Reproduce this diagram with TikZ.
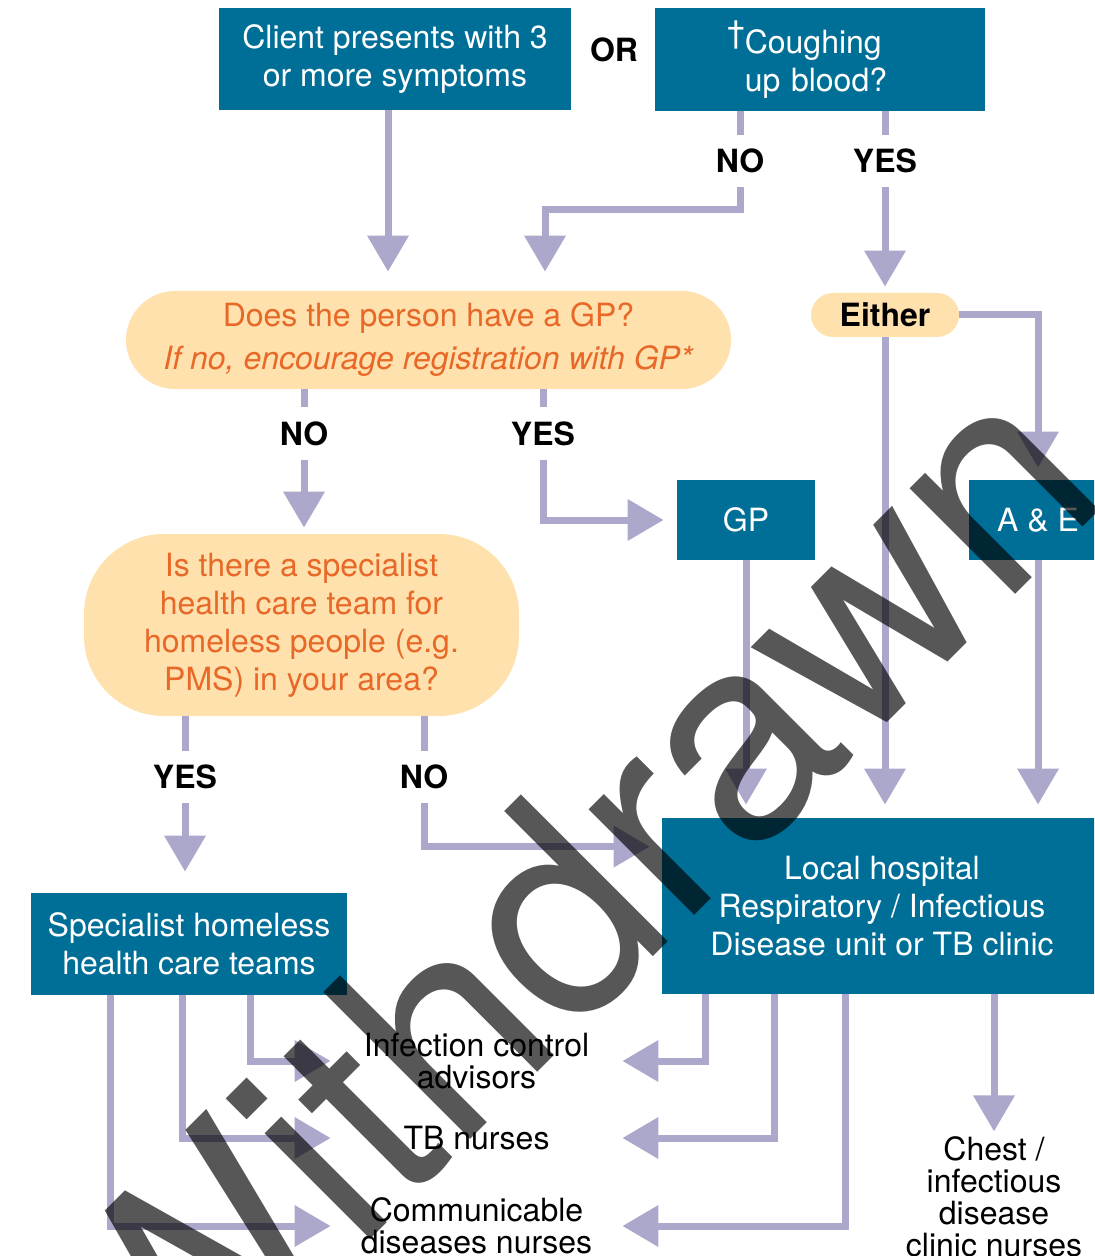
\documentclass[tikz,border=0pt]{standalone}
\usepackage{fontspec}
\setmainfont{TeX Gyre Heros}
\usetikzlibrary{arrows.meta}

\definecolor{boxteal}{RGB}{0,111,151}
\definecolor{pillpeach}{RGB}{255,225,174}
\definecolor{asktext}{RGB}{232,104,40}
\definecolor{flowlilac}{RGB}{172,168,203}

\newcommand\bodyfont{\fontsize{16}{19}\selectfont}
\newcommand\stafffont{\fontsize{16}{16}\selectfont}

\tikzset{
  tealbox/.style={fill=boxteal, text=white, align=center, inner sep=0pt},
  pill/.style={fill=pillpeach, text=asktext, align=center, inner sep=0pt},
  answer/.style={font=\bodyfont\bfseries, minimum height=26pt, inner sep=0pt},
  flow/.style={draw=flowlilac, line width=3.5pt},
  arr/.style={flow, -{Triangle[width=20pt,length=18pt]}},
  staff/.style={font=\stafffont, align=center, inner sep=0pt},
}

\begin{document}
\begin{tikzpicture}[x=0.5pt,y=-0.5pt,every node/.style={font=\bodyfont}]
    \path[use as bounding box] (0,0) rectangle (1094,1256);
    \clip (0,0) rectangle (1094,1256);

    % top row
    \node[tealbox, minimum width=176pt, minimum height=51pt] (client) at (395,59) {Client presents with 3\\or more symptoms};
    \node[font=\bodyfont\bfseries] (or) at (614,50) {OR};
    \node[tealbox, align=left, text width=165pt, minimum height=51.5pt] (cough) at (820,59.5)
        {\hspace*{36pt}\raisebox{5pt}{\textdagger}Coughing\\\hspace*{36pt}\phantom{\textdagger}up blood?};
    \node[answer] (no1) at (740,161) {NO};
    \node[answer] (yes1) at (885,161) {YES};
    \coordinate (nobend) at (545,210);

    % questions
    \node[pill, rounded corners=24.5pt, minimum width=302.5pt, minimum height=49pt] (gpq) at (428.5,340)
        {Does the person have a GP?\\[2.5pt]\textit{If no, encourage registration with GP*}};
    \node[pill, text=black, font=\bodyfont\bfseries, rounded corners=11pt, minimum width=74pt, minimum height=22pt] (either) at (885,315) {Either};
    \node[answer] (no2) at (304,433.5) {NO};
    \node[answer] (yes2) at (543,433.5) {YES};
    \node[tealbox, minimum width=69pt, minimum height=40pt] (gp) at (746,520) {GP};
    \node[tealbox, minimum width=69pt, minimum height=40pt] (ae) at (1038,520) {A \& E};
    \node[pill, rounded corners=40pt, minimum width=217.5pt, minimum height=91pt] (spec) at (301.5,625)
        {Is there a specialist\\health care team for\\homeless people (e.g.\\PMS) in your area?};
    \node[answer] (yes3) at (185,777) {YES};
    \node[answer] (no3) at (424,777) {NO};

    % services
    \node[tealbox, minimum width=158pt, minimum height=51pt] (teams) at (189,944) {Specialist homeless\\health care teams};
    \node[tealbox, minimum width=220pt, minimum height=88pt] (hosp) at (882,906) {Local hospital\\Respiratory / Infectious\\Disease unit or TB clinic};

    % staff
    \node[staff, minimum width=145.5pt] (ica) at (476.5,1061) {Infection control\\advisors};
    \node[staff, minimum width=145.5pt] (tbn) at (476.5,1138) {TB nurses};
    \node[staff, minimum width=145.5pt] (cdn) at (476.5,1226) {Communicable\\diseases nurses};
    \node[staff] (chest) at (994,1197) {Chest /\\infectious\\disease\\clinic nurses};

    \coordinate (c1) at ([xshift=-3.5pt]client.south);
    \coordinate (h4) at ([xshift=56pt]hosp.south);
    \coordinate (hin) at ([yshift=-14.5pt]hosp.north west);

    % connectors
    \draw[arr, shorten >=9.5pt] (c1) -- (c1 |- gpq.north);
    \draw[flow] (cough.south -| no1) -- (no1.north);
    \draw[arr, shorten >=9.5pt] (no1.south) |- (nobend) -- (nobend |- gpq.north);
    \draw[flow] (cough.south -| yes1) -- (yes1.north);
    \draw[arr, shorten >=3pt] (yes1.south) -- (either.north);
    \draw[arr, shorten >=6pt] (either.east) -| (ae.north);
    \draw[arr, shorten >=6.5pt] (either.south) -- (either.south |- hosp.north);

    \draw[flow] (gpq.south -| no2) -- (no2.north);
    \draw[arr, shorten >=3pt] (no2.south) -- (no2.south |- spec.north);
    \draw[flow] (gpq.south -| yes2) -- (yes2.north);
    \draw[arr, shorten >=6.5pt] (yes2.south) |- (gp.west);
    \draw[arr, shorten >=6.5pt] (gp.south) -- (gp.south |- hosp.north);
    \draw[arr, shorten >=6.5pt] (ae.south) -- (ae.south |- hosp.north);

    \draw[flow] (spec.south -| yes3) -- (yes3.north);
    \draw[arr, shorten >=10.5pt] (yes3.south) -- (yes3.south |- teams.north);
    \draw[flow] (spec.south -| no3) -- (no3.north);
    \draw[arr, shorten >=6pt] (no3.south) |- (hin);

    \foreach \dx/\dest in {30.5/ica, -3.5/tbn, -39.5/cdn}
        \draw[arr] ([xshift=\dx pt]teams.south) |- (\dest.west);
    \foreach \dx/\dest in {-88.5/ica, -54/tbn, -18.5/cdn}
        \draw[arr] ([xshift=\dx pt]hosp.south) |- (\dest.east);
    \draw[arr, shorten >=2.5pt] (h4) -- (h4 |- chest.north);

    % watermark
    \node[rotate=45, anchor=base west, inner sep=0pt, text=black, text opacity=0.66,
          font=\fontsize{142.5}{150}\selectfont] (mark) at (166,1444) {Withdrawn};
\end{tikzpicture}
\end{document}
